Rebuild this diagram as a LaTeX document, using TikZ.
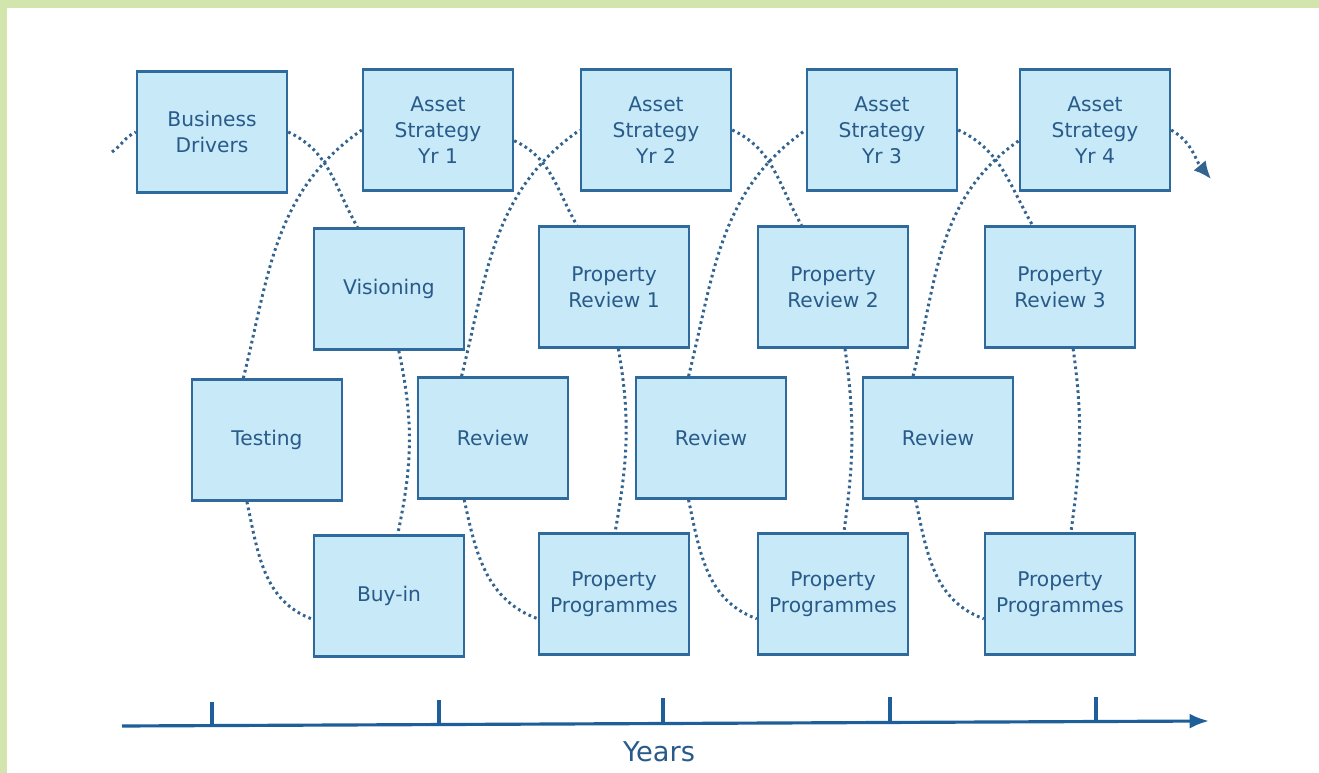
\documentclass[tikz,border=0pt]{standalone}
\usepackage{fontspec}
\setmainfont{DejaVu Sans}
\usetikzlibrary{arrows.meta}

\definecolor{boxfill}{HTML}{C7E9F8}
\definecolor{boxline}{HTML}{2F6A9C}
\definecolor{inkblue}{HTML}{285A8A}
\definecolor{dotblue}{HTML}{33648F}
\definecolor{axisblue}{HTML}{1F5F99}
\definecolor{framegreen}{HTML}{D2E5AD}

\begin{document}
\begin{tikzpicture}[x=0.02cm,y=-0.02cm,
    stage/.style={rectangle,draw=boxline,fill=boxfill,line width=1.4pt,
      minimum width=3cm,minimum height=2.42cm,inner sep=0pt,align=center,
      text=inkblue,font=\fontsize{11.5}{14.8}\selectfont},
    cycleline/.style={draw=dotblue,line width=1.7pt,dash pattern=on 1.5pt off 1.9pt}]
    \useasboundingbox (0,0) rectangle (1319,773);
    \fill[framegreen] (0,0) rectangle (1319,773);
    \fill[white] (7,8) rectangle (1319,773);

    % boxes
    \node[stage] (drv) at (212,132) {Business\\Drivers};
    \node[stage] (as1) at (438,130) {Asset\\Strategy\\Yr 1};
    \node[stage] (as2) at (656,130) {Asset\\Strategy\\Yr 2};
    \node[stage] (as3) at (882,130) {Asset\\Strategy\\Yr 3};
    \node[stage] (as4) at (1095,130) {Asset\\Strategy\\Yr 4};

    \node[stage] (vis) at (389,289) {Visioning};
    \node[stage] (pr1) at (614,287) {Property\\Review 1};
    \node[stage] (pr2) at (833,287) {Property\\Review 2};
    \node[stage] (pr3) at (1060,287) {Property\\Review 3};

    \node[stage] (tst) at (267,440) {Testing};
    \node[stage] (rv1) at (493,438) {Review};
    \node[stage] (rv2) at (711,438) {Review};
    \node[stage] (rv3) at (938,438) {Review};

    \node[stage] (buy) at (389,596) {Buy-in};
    \node[stage] (pp1) at (614,594) {Property\\Programmes};
    \node[stage] (pp2) at (833,594) {Property\\Programmes};
    \node[stage] (pp3) at (1060,594) {Property\\Programmes};

    % dotted cycle
    \coordinate (start) at (112,152);
    \coordinate (finish) at (1211,179);
    \draw[cycleline] (start) to[out=35,in=205] (drv.west);
    \draw[cycleline] (drv.east) to[out=-25,in=120] (vis.117);
    \draw[cycleline] (tst.111) to[out=76,in=215] (as1.west);
    \draw[cycleline] (vis.-81) to[out=-78,in=78] (buy.82);
    \draw[cycleline] (tst.-108) to[out=-78,in=160] (buy.-163);

    \draw[cycleline] (as1.-8) to[out=-25,in=120] (pr1.121);
    \draw[cycleline] (rv1.117) to[out=76,in=215] (as2.west);
    \draw[cycleline] (rv1.-115) to[out=-78,in=160] (pp1.-162);
    \draw[cycleline] (pr1.-86) to[out=-80,in=80] (pp1.89);

    \draw[cycleline] (as2.east) to[out=-25,in=120] (pr2.117);
    \draw[cycleline] (rv2.110) to[out=76,in=215] (as3.west);
    \draw[cycleline] (rv2.-110) to[out=-78,in=160] (pp2.-162);
    \draw[cycleline] (pr2.-79) to[out=-82,in=82] (pp2.80);

    \draw[cycleline] (as3.east) to[out=-25,in=120] (pr3.114);
    \draw[cycleline] (rv3.112) to[out=76,in=215] (as4.188);
    \draw[cycleline] (rv3.-110) to[out=-78,in=160] (pp3.-162);
    \draw[cycleline] (pr3.-78) to[out=-82,in=82] (pp3.80);

    \draw[cycleline,-{Latex[length=10pt,width=9pt]}] (as4.east) to[out=-30,in=130] (finish);

    % time axis
    \coordinate (ax0) at (122,726);
    \coordinate (ax1) at (1209,721);
    \draw[axisblue,line width=1.8pt,-{Latex[length=11pt,width=8.5pt]}] (ax0) -- (ax1);
    \draw[axisblue,line width=2.2pt] (212,702) -- (212,726);
    \draw[axisblue,line width=2.2pt] (439,700) -- (439,725);
    \draw[axisblue,line width=2.2pt] (663,698) -- (663,724);
    \draw[axisblue,line width=2.2pt] (890,697) -- (890,723);
    \draw[axisblue,line width=2.2pt] (1096,697) -- (1096,722);
    \node[text=inkblue,font=\fontsize{15.5}{18}\selectfont] (years) at (659,752) {Years};
\end{tikzpicture}
\end{document}
